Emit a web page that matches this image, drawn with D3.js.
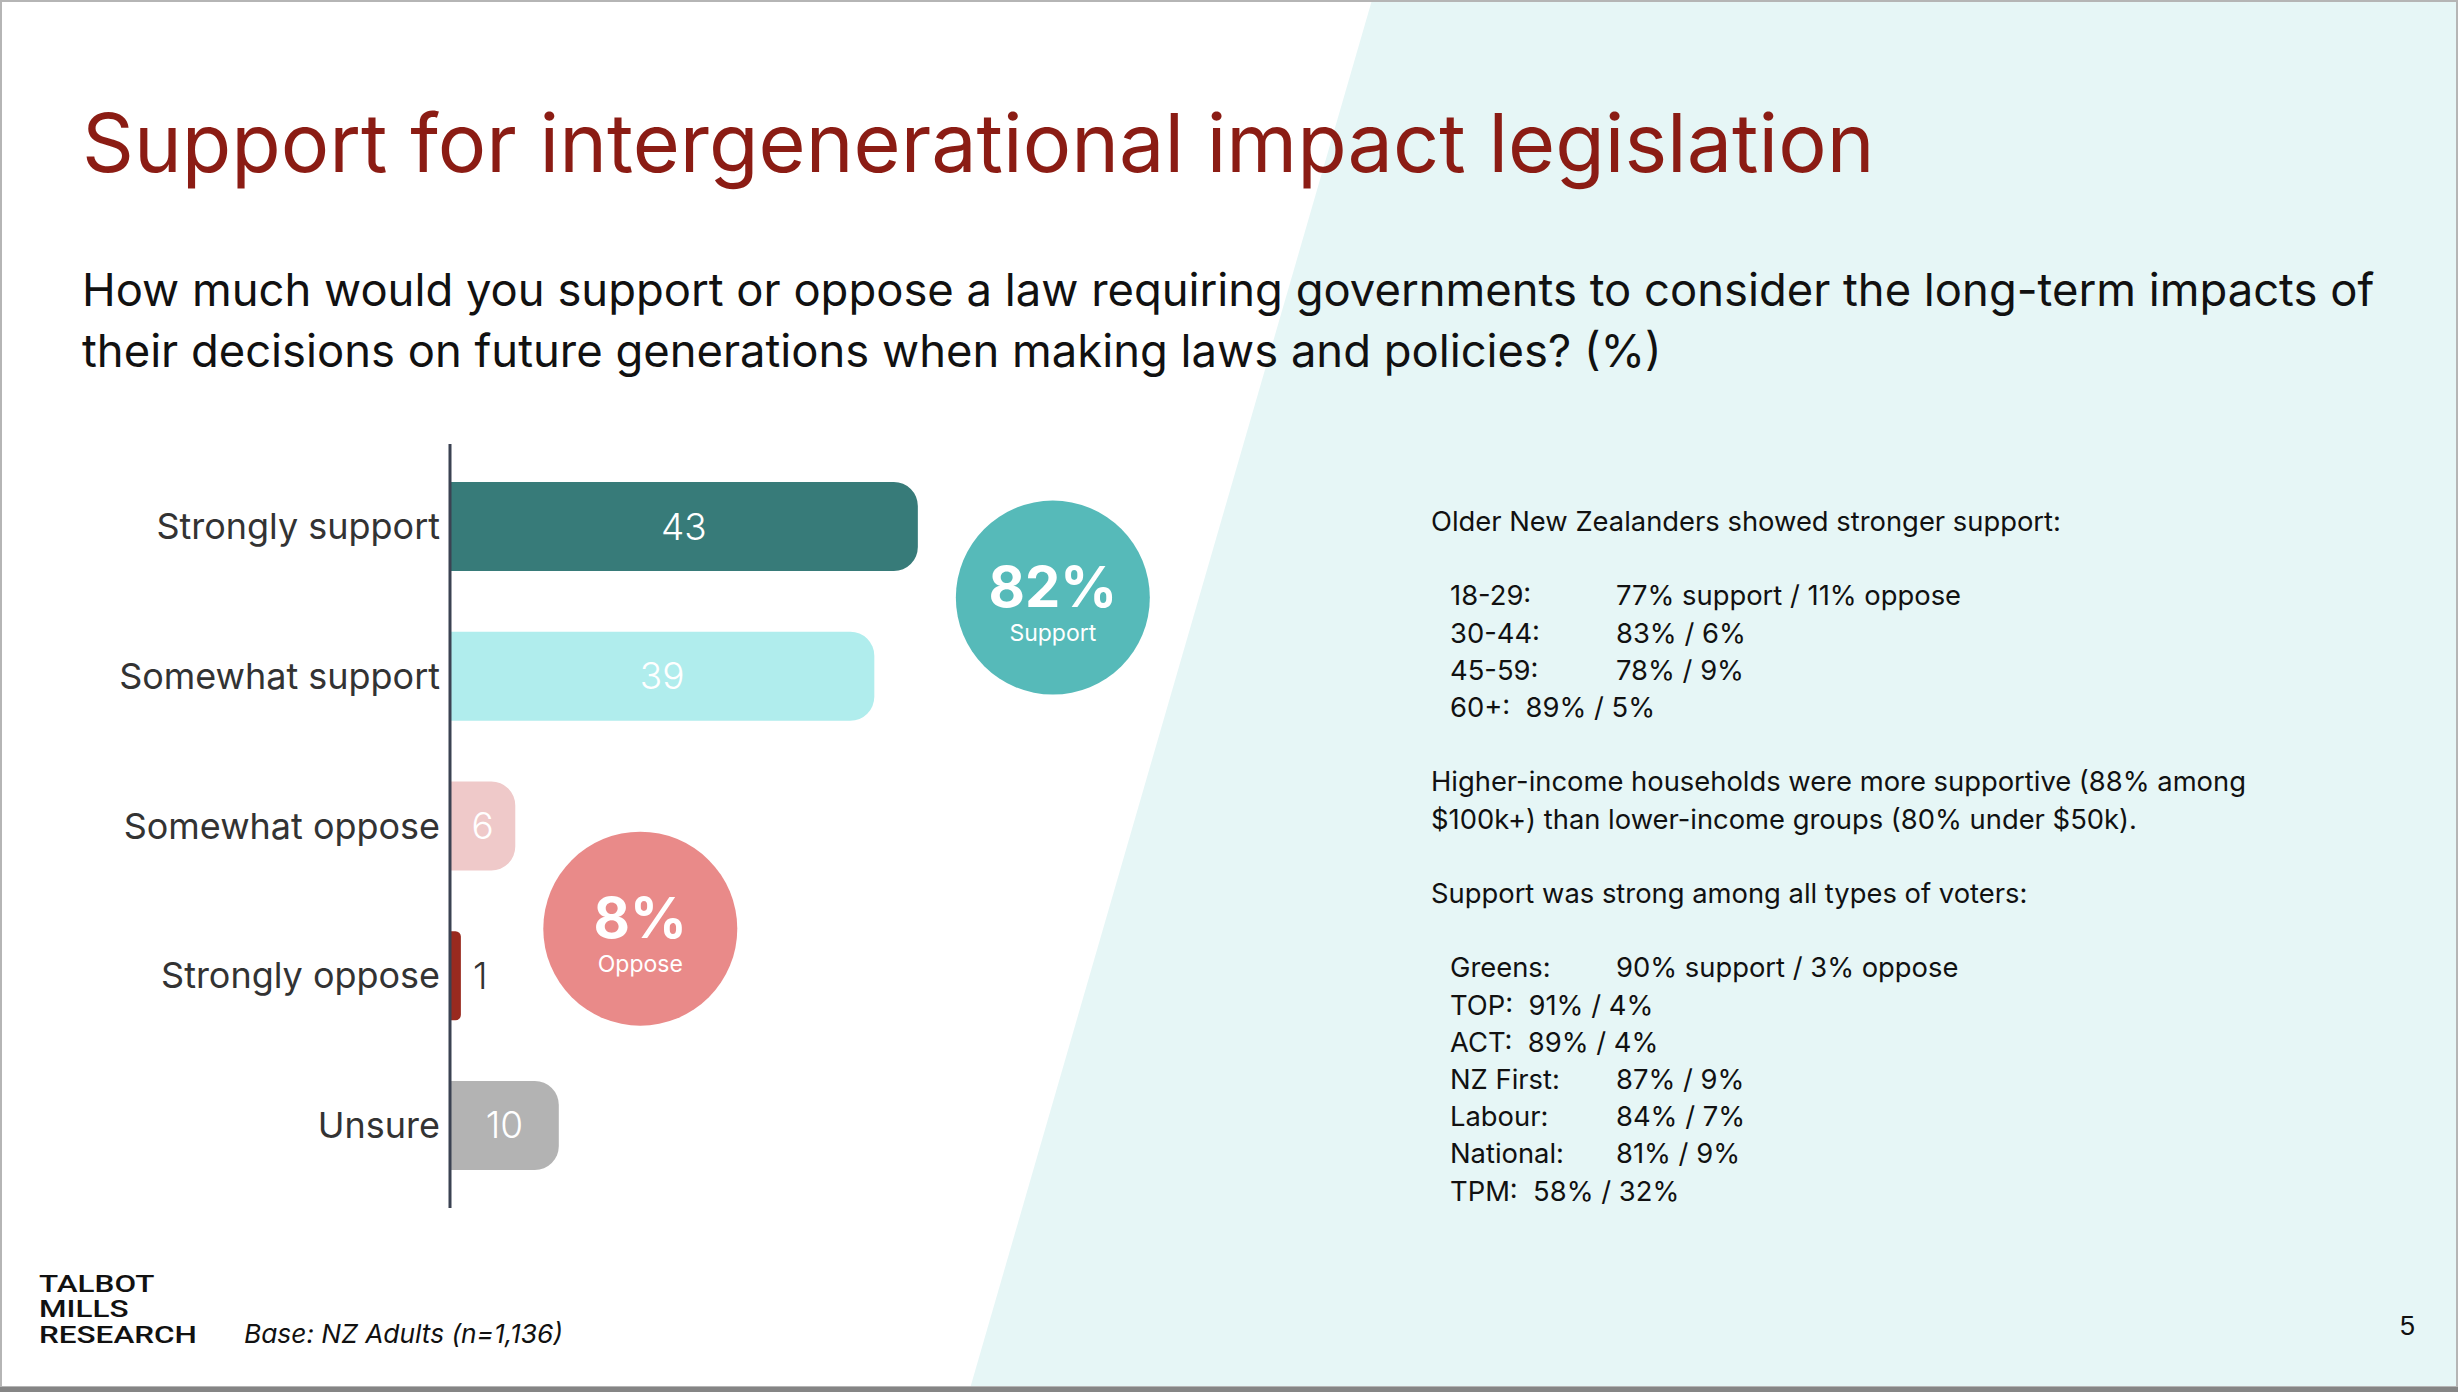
<!DOCTYPE html>
<html>
<head>
<meta charset="utf-8">
<script src="https://cdn.jsdelivr.net/npm/d3@7"></script>
<style>
  body { margin: 0; background: #fff; }
  text { white-space: pre; }
</style>
</head>
<body>
<script>
// chart values
const categories = ["Strongly support", "Somewhat support", "Somewhat oppose", "Strongly oppose", "Unsure"];
const values = [43, 39, 6, 1, 10];
const barColors = ["#377b79", "#b0eded", "#efc9c9", "#992a1f", "#b3b3b3"];

const summaryLabels = ["Support", "Oppose"];
const summaryValues = [82, 8];

const titleText = "Support for intergenerational impact legislation";
const questionLines = [
  "How much would you support or oppose a law requiring governments to consider the long-term impacts of",
  "their decisions on future generations when making laws and policies? (%)"
];

// side notes, tab splits label / result
const noteLines = [
  "Older New Zealanders showed stronger support:",
  "",
  "18-29:\t77% support / 11% oppose",
  "30-44:\t83% / 6%",
  "45-59:\t78% / 9%",
  "60+:  89% / 5%",
  "",
  "Higher-income households were more supportive (88% among",
  "$100k+) than lower-income groups (80% under $50k).",
  "",
  "Support was strong among all types of voters:",
  "",
  "Greens:\t90% support / 3% oppose",
  "TOP:  91% / 4%",
  "ACT:  89% / 4%",
  "NZ First:\t87% / 9%",
  "Labour:\t84% / 7%",
  "National:\t81% / 9%",
  "TPM:  58% / 32%"
];
const indented = [2, 3, 4, 5, 12, 13, 14, 15, 16, 17, 18];

const logoLines = ["TALBOT", "MILLS", "RESEARCH"];
const baseNote = "Base: NZ Adults (n=1,136)";
const pageNo = "5";

const W = 2458, H = 1392;
const font = "Inter, 'DejaVu Sans', sans-serif";

function fitWidth(sel, target) {
  const fs = parseFloat(sel.attr("font-size"));
  const w = sel.node().getComputedTextLength();
  sel.attr("font-size", fs * target / w);
  return fs * target / w;
}

function barPath(x0, y, w, h, r) {
  r = Math.min(r, w / 2, h / 2);
  return `M${x0},${y}H${x0 + w - r}A${r},${r} 0 0 1 ${x0 + w},${y + r}` +
         `V${y + h - r}A${r},${r} 0 0 1 ${x0 + w - r},${y + h}H${x0}Z`;
}

const svg = d3.select("body").append("svg")
  .attr("width", W).attr("height", H)
  .style("display", "block");

// background: white slide with slanted light teal panel
svg.append("rect").attr("width", W).attr("height", H).attr("fill", "#fff");
svg.append("path")
  .attr("d", `M1372,0H${W}V${H}H969Z`)
  .attr("fill", "#e6f6f6");
svg.append("rect").attr("x", 1).attr("y", 1).attr("width", W - 2).attr("height", H - 6)
  .attr("fill", "none").attr("stroke", "#b5b5b5").attr("stroke-width", 2);
svg.append("rect").attr("x", 0).attr("y", H - 5).attr("width", W).attr("height", 5)
  .attr("fill", "#858585");

// title + question
const title = svg.append("text")
  .attr("x", 82).attr("y", 172)
  .attr("font-family", font).attr("font-size", 84)
  .attr("fill", "#8b1c14")
  .text(titleText);
fitWidth(title, 1793);

const q = svg.append("g").attr("font-family", font).attr("fill", "#111");
const qLines = q.selectAll("text").data(questionLines).join("text")
  .attr("x", 82)
  .attr("y", (d, i) => 306 + i * 61)
  .attr("font-size", 46)
  .text(d => d);
const qSize = fitWidth(d3.select(qLines.nodes()[0]), 2293);
qLines.attr("font-size", qSize);

// bar chart
const x = d3.scaleLinear().domain([0, 100]).range([450, 1538]);
const y = d3.scaleBand().domain(categories).range([444, 1208])
  .paddingInner(0.405).paddingOuter(0.254);
const color = d3.scaleOrdinal(categories, barColors);

const rows = categories.map((c, i) => ({ cat: c, v: values[i] }));

const chart = svg.append("g");

chart.selectAll("path.bar").data(rows).join("path")
  .attr("class", "bar")
  .attr("d", d => barPath(x(0), y(d.cat), x(d.v) - x(0), y.bandwidth(), 24))
  .attr("fill", d => color(d.cat));

// category axis
const yAxis = d3.axisLeft(y).tickSize(0).tickPadding(10);
const axisG = chart.append("g").attr("transform", `translate(${x(0)},0)`).call(yAxis);
axisG.select(".domain").attr("stroke", "#3b4252").attr("stroke-width", 3)
  .attr("d", `M0,${y.range()[0]}V${y.range()[1]}`);
axisG.selectAll(".tick text")
  .attr("font-family", font).attr("font-size", 37)
  .attr("fill", "#333").attr("dy", "0.35em");
const refLabel = axisG.selectAll(".tick text").filter(d => d === "Somewhat support");
const labSize = fitWidth(refLabel, 321);
axisG.selectAll(".tick text").attr("font-size", labSize);

chart.selectAll("text.val").data(rows).join("text")
  .attr("class", "val")
  .attr("x", d => d.v >= 3 ? (x(0) + x(d.v)) / 2 : x(d.v) + 12)
  .attr("y", d => y(d.cat) + y.bandwidth() / 2)
  .attr("dy", "0.35em")
  .attr("text-anchor", d => d.v >= 3 ? "middle" : "start")
  .attr("font-family", font).attr("font-size", 37).attr("font-weight", 300)
  .attr("fill", d => d.v >= 3 ? "#fff" : "#333")
  .text(d => d.v);

// summary bubbles
const bubbles = [
  { label: summaryLabels[0], v: summaryValues[0], cx: x(values[0]) + 135,
    cy: y(categories[0]) + y.bandwidth() / 2 + 71, fill: "#56bab9" },
  { label: summaryLabels[1], v: summaryValues[1], cx: x(values[2]) + 125,
    cy: y(categories[3]) + y.bandwidth() / 2 - 47, fill: "#e98a89" }
];
const bg = svg.selectAll("g.bubble").data(bubbles).join("g")
  .attr("class", "bubble")
  .attr("transform", d => `translate(${d.cx},${d.cy})`);
bg.append("circle").attr("r", 97).attr("fill", d => d.fill);
bg.append("text")
  .attr("y", 9).attr("text-anchor", "middle")
  .attr("font-family", font).attr("font-size", 56).attr("font-weight", 700)
  .attr("fill", "#fff")
  .text(d => d.v + "%");
bg.append("text")
  .attr("y", 43).attr("text-anchor", "middle")
  .attr("font-family", font).attr("font-size", 23)
  .attr("fill", "#fff")
  .text(d => d.label);

// side notes
const notes = svg.append("g").attr("font-family", font).attr("fill", "#111");
const noteSel = notes.selectAll("g.line").data(noteLines.map((t, i) => ({ t, i })))
  .join("g").attr("class", "line")
  .attr("transform", d => `translate(${indented.includes(d.i) ? 1450 : 1431},${531 + d.i * 37.2})`);
noteSel.each(function (d) {
  const g = d3.select(this);
  const parts = d.t.split("\t");
  g.append("text").attr("font-size", 29).text(parts[0]);
  if (parts.length > 1) {
    g.append("text").attr("x", 1616 - 1450).attr("font-size", 29).text(parts[1]);
  }
});
const noteSize = fitWidth(notes.select("text"), 630);
notes.selectAll("text").attr("font-size", noteSize);

// footer: logo in a narrow, tightly stacked block
const logo = svg.append("g").attr("font-family", "Roboto, 'Liberation Sans', sans-serif")
  .attr("font-weight", 500).attr("fill", "#111");
const logoText = logo.selectAll("text").data(logoLines).join("text")
  .attr("x", 0)
  .attr("y", (d, i) => [1292, 1317.5, 1343][i])
  .attr("font-size", 24)
  .text(d => d);
const resW = logoText.nodes()[2].getComputedTextLength();
logo.attr("transform", `translate(39,0) scale(${158 / resW},1)`);

const base = svg.append("text")
  .attr("x", 244).attr("y", 1343)
  .attr("font-family", font).attr("font-style", "italic").attr("font-size", 27)
  .attr("fill", "#111")
  .text(baseNote);
fitWidth(base, 319);

svg.append("text")
  .attr("x", 2400).attr("y", 1335)
  .attr("font-family", "'Liberation Sans', Arial, sans-serif").attr("font-size", 27)
  .attr("fill", "#111")
  .text(pageNo);
</script>
</body>
</html>
